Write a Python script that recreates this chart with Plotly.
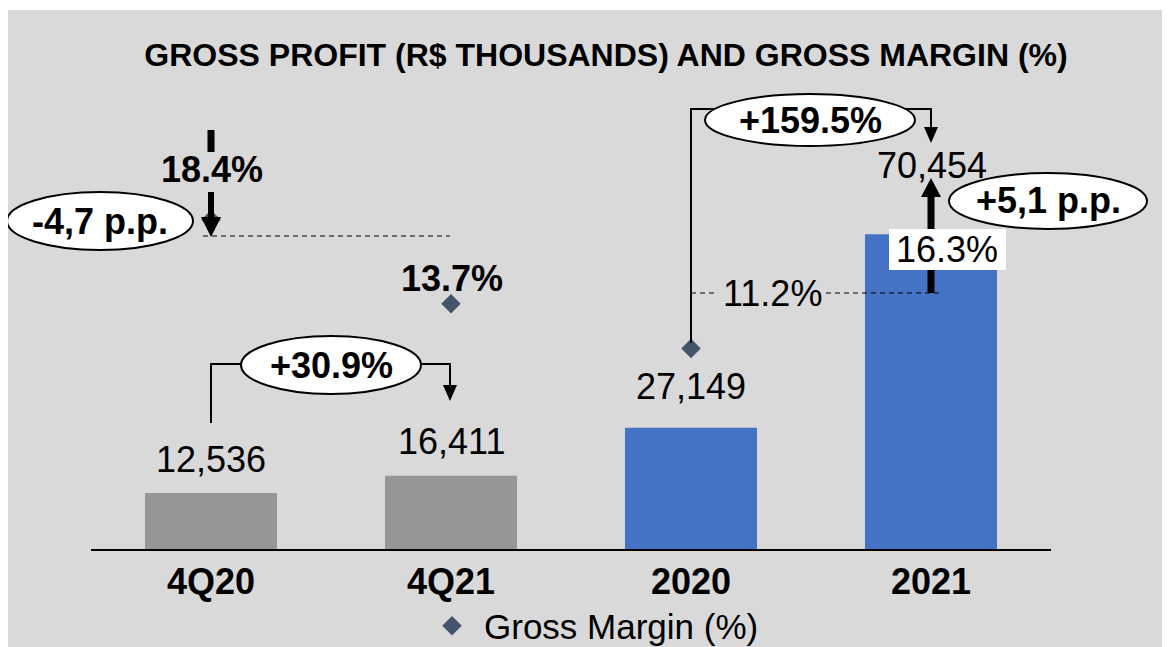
import plotly.graph_objects as go

# ---------------- data ----------------
categories = ["4Q20", "4Q21", "2020", "2021"]
gross_profit = [12536, 16411, 27149, 70454]          # R$ thousands
gross_margin = [18.4, 13.7, 11.2, 16.3]              # %
bar_colors = ["#969696", "#969696", "#4472C4", "#4472C4"]
change_labels = ["+30.9%", "+159.5%"]
pp_labels = ["-4,7 p.p.", "+5,1 p.p."]
title_text = "GROSS PROFIT (R$ THOUSANDS) AND GROSS MARGIN (%)"
legend_name = "Gross Margin (%)"

# ---------------- layout geometry (screen pixels) ----------------
W, H = 1170, 647
OFF = 8                      # page body margin
L, R, T, B = 91, 1051, 80, 549
PW, PH = R - L, B - T
FONT = "Liberation Sans, Arial, sans-serif"
BG = "#d9d9d9"


def xp(px):
    return (px - L) / PW


def yp(py):
    return (B - py) / PH


fig = go.Figure()
fig.add_trace(go.Bar(
    x=categories, y=gross_profit, marker=dict(color=bar_colors, line=dict(width=0)),
    width=0.55, showlegend=False, hoverinfo="skip"))
fig.add_trace(go.Scatter(
    x=categories, y=gross_margin, yaxis="y2", mode="markers", name=legend_name,
    marker=dict(symbol="diamond", size=15, color="#44546A")))

shapes = []
ann = []

def line(x0, y0, x1, y1, width=2, dash="solid"):
    shapes.append(dict(type="line", xref="paper", yref="paper",
                       x0=xp(x0), y0=yp(y0), x1=xp(x1), y1=yp(y1),
                       line=dict(color="black", width=width, dash=dash), layer="above"))

def poly(points, fill=None, width=2):
    d = "M " + " L ".join(f"{xp(a):.5f},{yp(b):.5f}" for a, b in points)
    if fill:
        d += " Z"
    shapes.append(dict(type="path", xref="paper", yref="paper", path=d,
                       fillcolor=fill if fill else "rgba(0,0,0,0)",
                       line=dict(color="black", width=0 if fill else width), layer="above"))

def head(x, ybase, ytip, hw):
    poly([(x - hw, ybase), (x + hw, ybase), (x, ytip)], fill="black")

def ellipse(cx, cy, rx, ry, text):
    shapes.append(dict(type="circle", xref="paper", yref="paper",
                       x0=xp(cx - rx), x1=xp(cx + rx), y0=yp(cy + ry), y1=yp(cy - ry),
                       fillcolor="white", line=dict(color="black", width=2), layer="above"))
    ann.append(dict(x=xp(cx), y=yp(cy), text=f"<b>{text}</b>", font=dict(size=36)))

def label(cx, cy, text, size=36, bold=False):
    ann.append(dict(x=xp(cx), y=yp(cy), text=f"<b>{text}</b>" if bold else text,
                    font=dict(size=size)))

# thin white strip at the very top of the figure
shapes.append(dict(type="rect", xref="paper", yref="paper", x0=xp(0), x1=xp(W + 20),
                   y0=yp(10), y1=yp(0), fillcolor="white", line=dict(width=0), layer="below"))

# -4,7 p.p. arrow (4Q20)
line(203, 236, 450, 236, width=1.2, dash="5px,4px")
line(211, 130, 211, 152, width=7)
line(211, 192, 211, 219, width=6)
head(211, 217, 237, 10)
ellipse(100, 221, 93, 29, pp_labels[0])

# +30.9% connector (4Q20 -> 4Q21)
poly([(211, 423), (211, 364), (450, 364), (450, 387)])
head(450, 385, 401, 7)
ellipse(331, 365, 90, 29, change_labels[0])

# +159.5% connector (2020 -> 2021)
poly([(691, 343), (691, 109), (931, 109), (931, 129)])
head(931, 127, 143, 7)
ellipse(810, 120, 105, 26, change_labels[1])

# +5,1 p.p. arrow (2021)
line(691, 293, 716, 293, width=1.2, dash="5px,4px")
line(826, 293, 940, 293, width=1.2, dash="5px,4px")
line(931, 293, 931, 197, width=7)
head(931, 197, 178, 10)
shapes.append(dict(type="rect", xref="paper", yref="paper", x0=xp(889), x1=xp(1006),
                   y0=yp(270), y1=yp(229), fillcolor="white", line=dict(width=0), layer="above"))
ellipse(1048, 201, 99, 28, pp_labels[1])

# value labels (gross profit)
pos_profit = [(211, 459), (451, 441), (691, 386), (932, 165)]
for (cx, cy), v in zip(pos_profit, gross_profit):
    label(cx, cy, f"{v:,}")

# margin labels
pos_margin = [(212, 170, True), (452, 278, True), (772, 293, False), (947, 249, False)]
for (cx, cy, bold), v in zip(pos_margin, gross_margin):
    label(cx, cy, f"{v:.1f}%", bold=bold)

for a in ann:
    a.update(xref="paper", yref="paper", showarrow=False, xanchor="center", yanchor="middle")
    a["font"].update(family=FONT, color="black")

fig.update_layout(
    width=W, height=H,
    margin=dict(l=L - OFF, r=W - (R - OFF), t=T - OFF, b=H - (B - OFF), pad=0, autoexpand=False),
    paper_bgcolor=BG, plot_bgcolor=BG,
    font=dict(family=FONT, color="black"),
    title=dict(text=title_text, x=(606 - OFF) / W, y=1 - (55 - OFF) / H,
               xanchor="center", yanchor="middle", xref="container", yref="container",
               font=dict(size=32, family=FONT, color="black", weight="bold")),
    xaxis=dict(type="category", range=[-0.5, 3.5], showline=True, linecolor="black", linewidth=2,
               ticks="", showgrid=False, zeroline=False,
               tickfont=dict(size=36, family=FONT, color="black", weight="bold")),
    yaxis=dict(range=[0, 105000], visible=False, showgrid=False, zeroline=False),
    yaxis2=dict(range=[0, 26.2], overlaying="y", visible=False, showgrid=False, zeroline=False),
    showlegend=True,
    legend=dict(orientation="h", x=xp(420), y=yp(626), xanchor="left", yanchor="middle",
                bgcolor="rgba(0,0,0,0)", font=dict(size=35, family=FONT, color="black"),
                itemwidth=54),
    bargap=0.45,
    shapes=shapes, annotations=ann,
)

fig.write_html("out.html")
